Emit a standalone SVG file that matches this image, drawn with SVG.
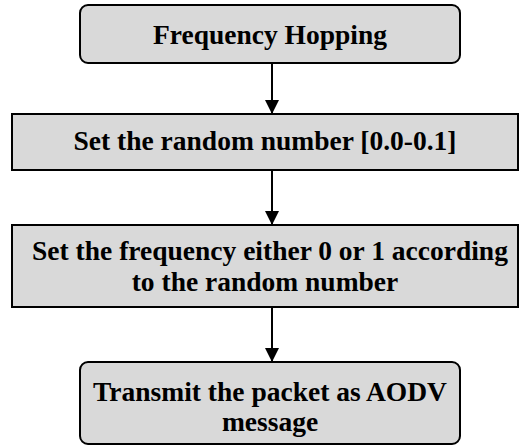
<svg xmlns="http://www.w3.org/2000/svg" width="519" height="446" viewBox="0 0 519 446">
  <defs>
    <marker id="arrow" markerWidth="14" markerHeight="14" refX="14" refY="7" orient="auto" markerUnits="userSpaceOnUse">
      <path d="M0,0 L14,7 L0,14 Z" fill="#000"/>
    </marker>
    <style>
      .box { fill: #d9d9d9; stroke: #000; stroke-width: 2; }
      .label { font-family: "Liberation Serif", "Times New Roman", serif; font-weight: bold; font-size: 27.5px; fill: #000; text-anchor: middle; }
      .link { stroke: #000; stroke-width: 2; fill: none; marker-end: url(#arrow); }
    </style>
  </defs>

  <g id="connectors">
    <line class="link" x1="272" y1="63" x2="272" y2="114"/>
    <line class="link" x1="272" y1="170" x2="272" y2="225"/>
    <line class="link" x1="272" y1="307" x2="272" y2="362"/>
  </g>

  <g id="frequency-hopping">
    <rect class="box" x="80" y="5" width="380" height="58" rx="8" ry="8"/>
    <text class="label" x="270" y="44">Frequency Hopping</text>
  </g>

  <g id="set-random-number">
    <rect class="box" x="12" y="114" width="506" height="56"/>
    <text class="label" x="265" y="150">Set the random number [0.0-0.1]</text>
  </g>

  <g id="set-frequency">
    <rect class="box" x="12" y="225" width="506" height="82"/>
    <text class="label" x="270" y="260">Set the frequency either 0 or 1 according</text>
    <text class="label" x="265" y="291">to the random number</text>
  </g>

  <g id="transmit-packet">
    <rect class="box" x="80" y="362" width="380" height="82" rx="8" ry="8"/>
    <text class="label" x="270" y="401">Transmit the packet as AODV</text>
    <text class="label" x="270" y="431">message</text>
  </g>
</svg>
